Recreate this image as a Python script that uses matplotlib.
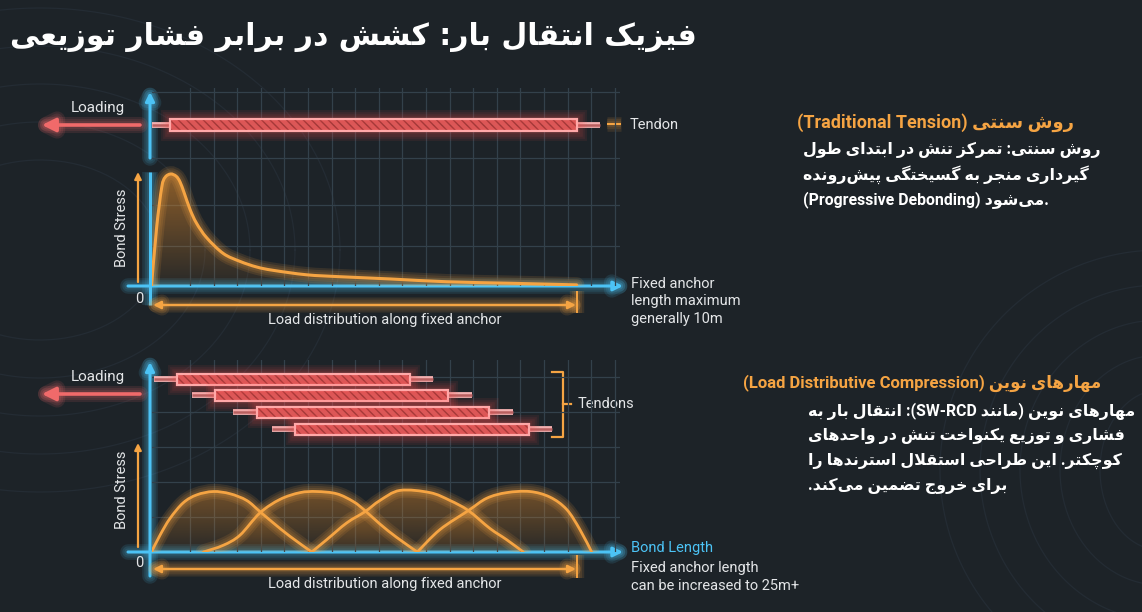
import numpy as np
import matplotlib
matplotlib.use("Agg")
import matplotlib.pyplot as plt
import matplotlib.colors as mcolors
from matplotlib import patheffects as pe
from matplotlib.patches import Rectangle, PathPatch
from matplotlib.path import Path

W, H = 1142, 612
BG = "#1d2328"
BLUE = "#4cc3f5"
ORANGE = "#f5a443"
RED = "#f06a6a"
TXT = "#e4e6e8"
GRID = "#33414b"
FONTS = ["Roboto", "DejaVu Sans"]
plt.rcParams["font.family"] = FONTS

# ---- data ----
# traditional tension: position along fixed anchor (m) vs bond stress (rel.)
TRAD_X = [0.0, 0.12, 0.24, 0.32, 0.45, 0.58, 0.67, 0.77, 0.91, 1.06, 1.30,
          1.69, 2.08, 2.47, 2.86, 3.65, 4.43, 5.61, 6.94, 8.50, 10.0]
TRAD_S = [0.0, 0.52, 0.88, 0.97, 1.00, 0.98, 0.93, 0.83, 0.68, 0.56, 0.43,
          0.29, 0.22, 0.17, 0.14, 0.10, 0.083, 0.063, 0.038, 0.024, 0.01]

# load distributive compression: four overlapping humps, position (m)
HUMP_X = [
    [0.0, 0.50, 1.09, 1.87, 2.66, 3.63, 4.62, 5.60, 6.38, 7.16, 8.14, 9.42],
    [3.05, 4.22, 5.20, 6.38, 7.56, 8.73, 9.71, 10.89, 11.87, 12.55, 13.43, 14.42, 15.63],
    [9.42, 10.30, 11.48, 12.55, 13.43, 14.61, 16.38, 17.55, 18.63, 19.90, 20.88, 21.86],
    [15.63, 16.96, 18.63, 19.71, 20.88, 22.25, 23.43, 24.41, 25.19, 25.88],
]
HUMP_S = [
    [0.0, 0.15, 0.30, 0.44, 0.51, 0.54, 0.52, 0.46, 0.36, 0.26, 0.14, 0.0],
    [0.0, 0.06, 0.15, 0.35, 0.47, 0.53, 0.54, 0.52, 0.45, 0.37, 0.25, 0.13, 0.0],
    [0.0, 0.11, 0.26, 0.36, 0.46, 0.55, 0.53, 0.46, 0.37, 0.21, 0.11, 0.0],
    [0.0, 0.20, 0.37, 0.48, 0.53, 0.54, 0.49, 0.38, 0.20, 0.0],
]

# tendons: rod start, bar start, bar end, rod end (m)
TOP_TENDON = (0.01, 0.44, 10.0, 10.55)
LDC_TENDONS = [
    (0.15, 1.50, 15.20, 16.55),
    (2.36, 3.73, 17.43, 18.84),
    (4.77, 6.19, 19.84, 21.25),
    (7.07, 8.44, 22.20, 23.55),
]

TITLE = "فیزیک انتقال بار: کشش در برابر فشار توزیعی"
HEAD_1 = "روش سنتی (Traditional Tension)"
BODY_1 = ["روش سنتی: تمرکز تنش در ابتدای طول",
          "گیرداری منجر به گسیختگی پیش\u200cرونده",
          "(Progressive Debonding) می\u200cشود."]
HEAD_2 = "مهارهای نوین (Load Distributive Compression)"
BODY_2 = ["مهارهای نوین (مانند SW-RCD): انتقال بار به",
          "فشاری و توزیع یکنواخت تنش در واحدهای",
          "کوچکتر. این طراحی استقلال استرندها را",
          "برای خروج تضمین می\u200cکند."]


# ---- minimal Persian shaping + bidi (no reshaper libs available) ----
def _four(b):
    return (b, b + 1, b + 2, b + 3)


FORMS = {
    "\u0627": (0xFE8D, 0xFE8E), "\u0622": (0xFE81, 0xFE82),
    "\u0623": (0xFE83, 0xFE84), "\u0625": (0xFE87, 0xFE88),
    "\u062F": (0xFEA9, 0xFEAA), "\u0630": (0xFEAB, 0xFEAC),
    "\u0631": (0xFEAD, 0xFEAE), "\u0632": (0xFEAF, 0xFEB0),
    "\u0698": (0xFB8A, 0xFB8B), "\u0648": (0xFEED, 0xFEEE),
    "\u0629": (0xFE93, 0xFE94),
    "\u0628": _four(0xFE8F), "\u067E": _four(0xFB56), "\u062A": _four(0xFE95),
    "\u062B": _four(0xFE99), "\u062C": _four(0xFE9D), "\u0686": _four(0xFB7A),
    "\u062D": _four(0xFEA1), "\u062E": _four(0xFEA5), "\u0633": _four(0xFEB1),
    "\u0634": _four(0xFEB5), "\u0635": _four(0xFEB9), "\u0636": _four(0xFEBD),
    "\u0637": _four(0xFEC1), "\u0638": _four(0xFEC5), "\u0639": _four(0xFEC9),
    "\u063A": _four(0xFECD), "\u0641": _four(0xFED1), "\u0642": _four(0xFED5),
    "\u06A9": _four(0xFB8E), "\u06AF": _four(0xFB92), "\u0644": _four(0xFEDD),
    "\u0645": _four(0xFEE1), "\u0646": _four(0xFEE5), "\u0647": _four(0xFEE9),
    "\u06CC": _four(0xFBFC),
}
LAMALEF = {"\u0627": (0xFEFB, 0xFEFC), "\u0622": (0xFEF5, 0xFEF6),
           "\u0623": (0xFEF7, 0xFEF8), "\u0625": (0xFEF9, 0xFEFA)}


def shape(s):
    s = s.replace("\u064A", "\u06CC").replace("\u0643", "\u06A9")
    out, i, n = [], 0, len(s)
    while i < n:
        c = s[i]
        if c not in FORMS:
            if c != "\u200c":
                out.append(c)
            i += 1
            continue
        prev = s[i - 1] if i > 0 else ""
        jp = prev in FORMS and len(FORMS[prev]) == 4
        if c == "\u0644" and i + 1 < n and s[i + 1] in LAMALEF:
            iso, fin = LAMALEF[s[i + 1]]
            out.append(chr(fin if jp else iso))
            i += 2
            continue
        nxt = s[i + 1] if i + 1 < n else ""
        f = FORMS[c]
        jn = len(f) == 4 and nxt in FORMS
        if jp and jn:
            g = f[3]
        elif jp:
            g = f[1]
        elif jn:
            g = f[2]
        else:
            g = f[0]
        out.append(chr(g))
        i += 1
    return "".join(out)


def visual(line):
    s = shape(line)

    def cls(ch):
        if ch.isascii() and ch.isalnum():
            return "L"
        if "\u0600" <= ch <= "\u06ff" or "\ufb50" <= ch <= "\ufeff":
            return "R"
        return "N"
    t = [cls(c) for c in s]
    base = next((x for x in t if x != "N"), "R")
    res, i, n = t[:], 0, len(s)
    while i < n:
        if t[i] == "N":
            j = i
            while j < n and t[j] == "N":
                j += 1
            a = t[i - 1] if i > 0 else base
            b = t[j] if j < n else base
            for k in range(i, j):
                res[k] = a if a == b else base
            i = j
        else:
            i += 1
    runs = []
    for ch, d in zip(s, res):
        if runs and runs[-1][0] == d:
            runs[-1][1].append(ch)
        else:
            runs.append([d, [ch]])
    mir = {"(": ")", ")": "("}
    parts = ["".join(mir.get(c, c) for c in reversed(cs)) if d == "R" else "".join(cs)
             for d, cs in runs]
    if base == "R":
        parts.reverse()
    return "".join(parts)


def glow(color, width, n=3, alpha=0.13, step=3.0):
    return [pe.Stroke(linewidth=width + step * k, foreground=color, alpha=alpha)
            for k in range(n, 0, -1)] + [pe.Normal()]


def smooth_path(x, y, close=False):
    # catmull-rom through the read points, drawn as cubic bezier segments
    p = np.column_stack([x, y]).astype(float)
    verts, codes = [p[0]], [Path.MOVETO]
    for i in range(len(p) - 1):
        p0 = p[i - 1] if i > 0 else p[i]
        p3 = p[i + 2] if i + 2 < len(p) else p[i + 1]
        verts += [p[i] + (p[i + 1] - p0) / 6, p[i + 1] - (p3 - p[i]) / 6, p[i + 1]]
        codes += [Path.CURVE4] * 3
    if close:
        verts += [(x[-1], 0), (x[0], 0), (x[0], 0)]
        codes += [Path.LINETO, Path.LINETO, Path.CLOSEPOLY]
    return Path(verts, codes)


fig = plt.figure(figsize=(W / 100, H / 100), dpi=100, facecolor=BG)
bg = fig.add_axes([0, 0, 1, 1])
bg.set_xlim(0, W)
bg.set_ylim(H, 0)
bg.axis("off")

# faint topographic decoration
th = np.linspace(0, 2 * np.pi, 200)
for k in range(5):
    bg.plot(40 + (120 + 45 * k) * np.cos(th), 250 + (90 + 38 * k) * np.sin(th),
            color="#242c34", lw=0.9, zorder=0)
    bg.plot(1160 + (60 + 40 * k) * np.cos(th), 470 + (80 + 35 * k) * np.sin(th),
            color="#242c34", lw=0.9, zorder=0)

PX_PER_STRESS = 112.0


def add_panel(top, base, m_per_px, hgrid_px):
    left, right = 151.5, 620.0
    ax = fig.add_axes([left / W, 1 - base / H, (right - left) / W, (base - top) / H])
    ax.set_facecolor("none")
    ax.axis("off")
    for px in np.arange(190, 621, 23.6):
        ax.axvline((px - left) * m_per_px, color=GRID, lw=0.9, zorder=0)
    for py in hgrid_px:
        ax.axhline((base - py) / PX_PER_STRESS, color=GRID, lw=0.9, zorder=0)
    xlim = (0, (right - left) * m_per_px)
    ylim = (0, (base - top) / PX_PER_STRESS)
    return ax, xlim, ylim


def stress_curve(ax, x, y, lw, alpha_top):
    z = np.zeros((100, 1, 4))
    z[:, :, :3] = mcolors.to_rgb("#e08a2c")
    z[:, 0, 3] = np.linspace(0.06, alpha_top, 100)
    im = ax.imshow(z, aspect="auto", origin="lower", zorder=2,
                   extent=[min(x), max(x), 0, max(y) * 1.05])
    im.set_clip_path(smooth_path(x, y, close=True), ax.transData)
    ax.add_patch(PathPatch(smooth_path(x, y), facecolor="none", edgecolor=ORANGE,
                           lw=lw, zorder=3, capstyle="round",
                           path_effects=glow(ORANGE, lw, n=3, alpha=0.12)))


def draw_tendon(ax, t, yc, h):
    r0, b0, b1, r1 = t
    for xa, xb in ((r0, b0), (b1, r1)):
        ax.plot([xa, xb], [yc, yc], color="#f2b0b0", lw=4.2, solid_capstyle="butt", zorder=4)
        ax.plot([xa, xb], [yc, yc], color="#b86060", lw=1.8, solid_capstyle="butt", zorder=4)
    ax.add_patch(Rectangle((b0, yc - h / 2), b1 - b0, h, facecolor="#d45a5a",
                           edgecolor="#8e3434", hatch="\\\\\\\\", lw=0, zorder=4))
    ax.add_patch(Rectangle((b0, yc - h / 2), b1 - b0, h, facecolor="none",
                           edgecolor="#ffa8a8", lw=1.6, zorder=5,
                           path_effects=glow("#ff5050", 1.6, n=4, alpha=0.08, step=3.0)))


# ---- top panel: traditional tension ----
M_TOP = 10 / (576.7 - 151.5)
ax1, xl1, yl1 = add_panel(88, 286, M_TOP, [246, 205, 158, 92])
stress_curve(ax1, TRAD_X, TRAD_S, 2.2, 0.6)
draw_tendon(ax1, TOP_TENDON, (286 - 125) / PX_PER_STRESS, 11 / PX_PER_STRESS)
ax1.set_xlim(xl1)
ax1.set_ylim(yl1)

# ---- bottom panel: load distributive compression ----
M_BOT = 25 / (576.7 - 151.5)
ax2, xl2, yl2 = add_panel(360, 552, M_BOT, [517, 482, 447, 412, 377])
for hx, hs in zip(HUMP_X, HUMP_S):
    stress_curve(ax2, hx, hs, 2.0, 0.45)
for t, ypx in zip(LDC_TENDONS, [379, 395, 412, 429]):
    draw_tendon(ax2, t, (552 - ypx) / PX_PER_STRESS, 11 / PX_PER_STRESS)
ax2.set_xlim(xl2)
ax2.set_ylim(yl2)


# ---- axes, arrows, labels (pixel space) ----
def arrow(x0, y0, x1, y1, color, lw, style="-|>", ms=12, g=True):
    bg.annotate("", xy=(x1, y1), xytext=(x0, y0), zorder=6,
                arrowprops=dict(arrowstyle=style, color=color, lw=lw,
                                mutation_scale=ms, shrinkA=0, shrinkB=0,
                                path_effects=glow(color, lw, n=3, alpha=0.12) if g else None))


def line(xs, ys, color, lw, z=6):
    bg.plot(xs, ys, color=color, lw=lw, zorder=z, solid_capstyle="butt",
            path_effects=glow(color, lw, n=3, alpha=0.12))


txt = dict(color=TXT, fontsize=10.5, zorder=7)

for base, ytop, yaxis_bottom, dim_y, tick, split in [
        (286, 172, 305, 305, (291, 313), True),
        (552, 362, 576, 569, (555, 578), False)]:
    arrow(128, base, 623, base, BLUE, 2.2, ms=14)
    if split:
        line([150, 150], [yaxis_bottom, ytop], BLUE, 2.2)
        arrow(150, 158, 150, 92, BLUE, 2.2, ms=13)
    else:
        arrow(150, yaxis_bottom, 150, ytop, BLUE, 2.2, ms=13)
    arrow(153, dim_y, 576, dim_y, ORANGE, 1.8, style="<|-|>", ms=11)
    line([577, 577], list(tick), ORANGE, 1.4)
    bg.text(139, dim_y - 6, "0", ha="center", va="center", **txt)
    bg.text(385, dim_y + 15, "Load distribution along fixed anchor", ha="center",
            va="center", **txt)

# bond stress arrows + labels
for y0, y1, yc in [(282, 172, 228), (547, 443, 490)]:
    arrow(138, y0, 138, y1, ORANGE, 1.6, ms=10, g=False)
    bg.text(122, yc, "Bond Stress", rotation=90, ha="center", va="center", **txt)

# loading arrows
for y in (125, 394):
    arrow(140, y, 42, y, RED, 2.6, ms=20)
    bg.text(98, y - 17, "Loading", ha="center", va="center", color=TXT,
            fontsize=11, zorder=7)

# tendon labels
line([607, 621], [124, 124], ORANGE, 1.5)
bg.text(630, 125, "Tendon", ha="left", va="center", **txt)
bg.plot([552, 563, 563, 552], [372, 372, 437, 437], color=ORANGE, lw=1.6, zorder=6)
bg.plot([563, 571], [404, 404], color=ORANGE, lw=1.6, zorder=6)
bg.text(578, 404, "Tendons", ha="left", va="center", **txt)

for i, s in enumerate(["Fixed anchor", "length maximum", "generally 10m"]):
    bg.text(631, 284 + 17.5 * i, s, ha="left", va="center", **txt)
bg.text(631, 548, "Bond Length", ha="left", va="center", color=BLUE, fontsize=10.5, zorder=7)
for i, s in enumerate(["Fixed anchor length", "can be increased to 25m+"]):
    bg.text(631, 568 + 17.5 * i, s, ha="left", va="center", **txt)

# ---- Persian title and explanations ----
bg.text(10, 37, visual(TITLE), ha="left", va="center", color="white",
        fontsize=21.5, fontweight="bold", family=["DejaVu Sans"])
bg.text(797, 123, visual(HEAD_1), ha="left", va="center", color=ORANGE,
        fontsize=13, fontweight="bold")
for i, s in enumerate(BODY_1):
    bg.text(803, 150 + 25 * i, visual(s), ha="left", va="center", color="white",
            fontsize=11.4, fontweight="bold")
bg.text(743, 383, visual(HEAD_2), ha="left", va="center", color=ORANGE,
        fontsize=12, fontweight="bold")
for i, s in enumerate(BODY_2):
    bg.text(808, 411 + 25 * i, visual(s), ha="left", va="center", color="white",
            fontsize=11.4, fontweight="bold")

fig.savefig("out.png", dpi=100, facecolor=BG)
